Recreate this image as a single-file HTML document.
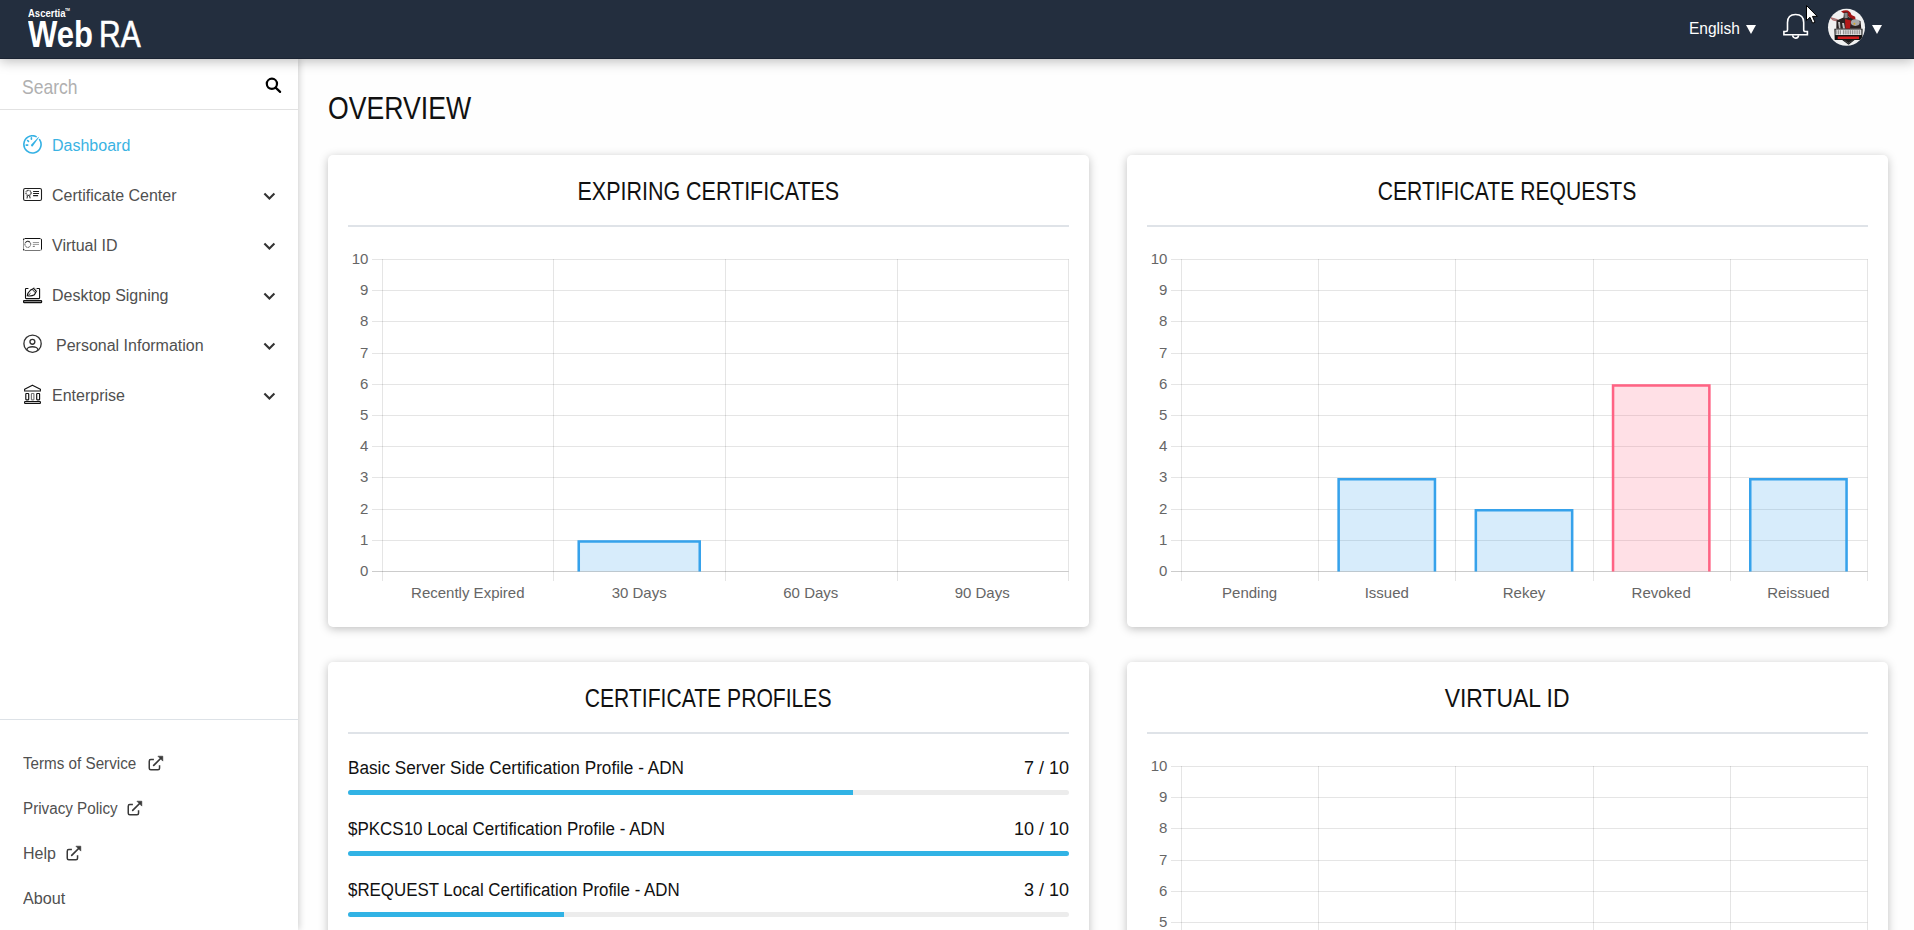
<!DOCTYPE html>
<html><head><meta charset="utf-8"><title>WebRA</title>
<style>
*{box-sizing:border-box;margin:0;padding:0}
html,body{width:1914px;height:930px;overflow:hidden;background:#fefefe;font-family:"Liberation Sans", sans-serif}
#header{position:absolute;left:0;top:0;width:1914px;height:59px;background:#232e3e;box-shadow:0 2px 12px rgba(0,0,0,.28);z-index:5}
#header .hline{position:absolute;left:0;top:58px;width:100%;height:1px;background:#1a2332}
.logo-a{position:absolute;left:27.9px;top:7.6px;color:#fff;font-weight:bold;font-size:11.3px;line-height:1;transform:scaleX(.84);transform-origin:0 0;white-space:nowrap}
.logo-tm{position:absolute;left:65.4px;top:8.2px;color:#fff;font-weight:bold;font-size:4px;line-height:1;white-space:nowrap;transform:scaleX(.85);transform-origin:0 0}
.logo-w{position:absolute;left:28px;top:15.6px;color:#fff;font-size:37px;font-weight:bold;line-height:1;white-space:nowrap;transform:scaleX(.84);transform-origin:0 0}
.logo-r{position:absolute;left:98.8px;top:15.6px;color:#fff;font-size:37px;line-height:1;white-space:nowrap;transform:scaleX(.81);transform-origin:0 0;-webkit-text-stroke:.6px #fff}
.lang{position:absolute;left:1689.3px;top:17.75px;color:#fff;font-size:16.5px;line-height:20px;transform:scaleX(.94);transform-origin:0 50%}
.tri{position:absolute;width:0;height:0;border-left:5px solid transparent;border-right:5px solid transparent;border-top:9px solid #fff}
#sidebar{position:absolute;left:0;top:58px;width:298px;height:872px;background:#fff;box-shadow:1px 0 7px rgba(0,0,0,.2);z-index:3}
.search{position:absolute;left:22px;top:17px;font-size:21px;color:#b0b0b0;transform:scaleX(.835);transform-origin:0 50%}
.sline{position:absolute;left:0;top:51px;width:298px;height:1px;background:#e2e2e2}
.nav{position:absolute;left:0;width:298px;height:50px;color:#505050;font-size:16px}
.nic{position:absolute;line-height:0}
.nav .lbl{position:absolute;top:16px;line-height:20px;white-space:nowrap}
.nav.active{color:#3ab3e3}
.chev{position:absolute;left:263px;top:22px}
.fline{position:absolute;left:0;top:661px;width:298px;height:1px;background:#dde2e7}
.flink{position:absolute;left:23px;height:24px;font-size:16px;line-height:24px;color:#505050;white-space:nowrap}
.flink .ft{display:inline-block;transform-origin:0 50%}
.ext{position:absolute}
h1{position:absolute;left:328px;top:91.3px;font-size:31px;font-weight:normal;color:#111;line-height:36px}
.card{position:absolute;width:761px;background:#fff;border-radius:5px;box-shadow:0 2px 10px rgba(0,0,0,.25)}
.card h2 span{display:inline-block;transform-origin:50% 50%}
.card h2{position:absolute;left:0;top:21px;width:100%;text-align:center;font-size:25px;font-weight:normal;color:#111;line-height:30px}
.card .sep{position:absolute;left:20px;top:70px;width:721px;height:2px;background:#dfe3e8}
.chart{position:absolute;left:0;top:0;font-family:"Liberation Sans", sans-serif;font-size:15px;fill:#666}
.prow{position:absolute;left:20px;width:721px;height:40px;font-size:18px;color:#111}
.pname{position:absolute;left:0;top:0;line-height:24px;white-space:nowrap;transform-origin:0 50%}
.pval{position:absolute;right:0;top:0;line-height:24px}
.ptrack{position:absolute;left:0;top:34px;width:721px;height:5px;border-radius:3px;background:#ececec;overflow:hidden}
.pfill{height:5px;background:#31b3e5}
</style></head><body>
<div id="header"><div class="hline"></div>
<div class="logo-a">Ascertia</div><div class="logo-tm">TM</div>
<div class="logo-w">Web</div><div class="logo-r">RA</div>
<div class="lang">English</div>
<div class="tri" style="left:1746px;top:25px"></div>
<svg style="position:absolute;left:1783px;top:13px" width="26" height="27" viewBox="0 0 26 27"><g fill="none" stroke="#fff" stroke-width="1.6"><path d="M4.5 17 V9.5 Q4.5 1.5 12.6 1.5 Q20.7 1.5 20.7 9.5 V17 Q20.7 18.5 22.5 18.5 H24.4 V21.8 H0.9 V18.5 H2.8 Q4.5 18.5 4.5 17 Z"/><path d="M9.7 22.2 A2.9 2.9 0 0 0 15.5 22.2"/></g></svg>
<div style="position:absolute;left:1826px;top:7px;line-height:0"><svg width="42" height="42" viewBox="0 0 42 42"><defs><clipPath id="avc"><circle cx="20.5" cy="20.3" r="18.5"/></clipPath></defs>
<circle cx="20.5" cy="20.3" r="18.5" fill="#f1f1f1"/>
<g clip-path="url(#avc)">
<path d="M15 4.6 Q18.5 2.6 22 3.4 Q25 5 25.6 8 L29.2 9.8 L29.8 15 L26 13 L22 9 Z" fill="#a01414"/>
<path d="M4.8 10.6 L11.5 12.6 L12 14.2 L6.5 13 Z" fill="#9a9a9a" stroke="#b02020" stroke-width=".5"/>
<path d="M10.5 13.5 L17.5 10.5 L18 5.5 L21.8 5.2 L22.5 10 L27 12 L34.5 14 L35.3 21.8 L10.3 21.8 Z" fill="#2a2222"/>
<path d="M18.2 6 L21.5 5.8 L21.7 11 L18.6 11.2 Z" fill="#8a8a8a"/>
<path d="M12 15 L13 21.5 L14.5 21.5 L14 15 Z M16 16 L17 21.5 L19 21.5 L18 16 Z" fill="#bdbdbd"/>
<path d="M19 12 L25 13.5 L24 21.8 L19.5 21.8 Z" fill="#b51818"/>
<ellipse cx="29.3" cy="15.6" rx="4.4" ry="3.3" fill="#a8a8a8"/>
<circle cx="28.4" cy="16.8" r="1" fill="#d9a520"/>
<path d="M8.4 21.7 H36.6 L36.3 33 H8.7 Z" fill="#141414"/>
<path d="M9.6 22.6 H35.4 V28 H9.6 Z" fill="#e8e8e8"/>
<path d="M10.8 23.2 V27.4 M12.6 23.2 V27.4 M14.4 23.2 V27.4 M17.4 23.2 V27.4 M19.2 23.2 V27.4 M21 23.2 V27.4 M22.8 23.2 V27.4 M24.6 23.2 V27.4 M26.4 23.2 V27.4 M28.2 23.2 V27.4 M30 23.2 V27.4 M31.8 23.2 V27.4 M33.6 23.2 V27.4" stroke="#3a3a3a" stroke-width=".55"/>
<path d="M11.7 29.4 H33 V32.1 H11.7 Z" fill="#d51f1f"/>
<path d="M15.5 32.5 H29.2 L22.6 37.8 Z" fill="#1a1a1a"/>
<path d="M18.5 33.5 L22.6 36.2 L26.5 33.5" stroke="#777" stroke-width=".5" fill="none"/>
</g></svg></div>
<div class="tri" style="left:1872px;top:25px"></div>
<svg width="14" height="22" viewBox="0 0 14 22" style="position:absolute;left:1806px;top:5px"><path d="M0.5 0.5 L0.5 15.5 L4 12.3 L6.6 18.2 L9 17.2 L6.5 11.4 L11.3 11.4 Z" fill="#fff" stroke="#000" stroke-width="1"/></svg>
</div>
<div id="sidebar">
<div class="search">Search</div>
<svg style="position:absolute;left:265px;top:19px" width="18" height="18" viewBox="0 0 18 18"><g fill="none" stroke="#000" stroke-width="2.2"><circle cx="6.9" cy="6.8" r="5.1"/><path d="M10.6 10.6 L15.1 14.9" stroke-linecap="round"/></g></svg>
<div class="sline"></div>
<div class="nav active" style="top:62px"><span class="lbl" style="left:52px">Dashboard</span></div><div class="nic" style="left:22px;top:77px"><svg width="21" height="21" viewBox="0 0 21 21"><g fill="none" stroke="#35b1e4" stroke-width="1.6" stroke-linecap="round"><path d="M17.6 4.6 A8.6 8.6 0 1 1 14.1 1.6"/><path d="M9.4 2.7 V4.2"/><path d="M5.6 5.5 L6.5 6.4"/><path d="M4.2 10.1 H5.7"/></g><path d="M8.85 10.0 L16.45 1.95 L16.95 2.45 L10.55 11.4 Q9.6 12 8.85 10.0 Z" fill="#35b1e4"/></svg></div><div class="nav" style="top:112px"><span class="lbl" style="left:52px">Certificate Center</span><svg class="chev" width="13" height="9" viewBox="0 0 13 9"><path d="M1.4 1.6 L6.4 6.6 L11.4 1.6" fill="none" stroke="#333" stroke-width="2.1"/></svg></div><div class="nic" style="left:22px;top:129px"><svg width="21" height="15" viewBox="0 0 21 15"><g fill="none" stroke="#1e1e1e" stroke-width="1.1"><rect x="1.6" y="1.5" width="17.9" height="12" rx="1.6"/><circle cx="6.5" cy="5.9" r="2.55" stroke-width="1.3" stroke-dasharray="1.1 .55" stroke="#3a3a3a"/><path d="M5.6 8.3 L5.0 11.5 M7.4 8.3 L8.2 11.3" stroke-width="1.2" stroke="#444"/><path d="M11.1 4.4 H17 M11.1 6.5 H17 M11.1 8.6 H16.1" stroke-width="1.05"/></g></svg></div><div class="nav" style="top:162px"><span class="lbl" style="left:52px">Virtual ID</span><svg class="chev" width="13" height="9" viewBox="0 0 13 9"><path d="M1.4 1.6 L6.4 6.6 L11.4 1.6" fill="none" stroke="#333" stroke-width="2.1"/></svg></div><div class="nic" style="left:22px;top:179px"><svg width="21" height="15" viewBox="0 0 21 15"><g fill="none" stroke-width="1"><path d="M2.6 1.5 H18.5 M19.5 2.5 V12.5" stroke="#111"/><path d="M2.6 13.5 H18.5" stroke="#777"/><path d="M1.5 2.5 V12.5" stroke="#999"/><circle cx="1.7" cy="2.3" r=".75" fill="#111" stroke="none"/><circle cx="1.7" cy="12.7" r=".75" fill="#111" stroke="none"/><circle cx="19.3" cy="2.3" r=".6" fill="#111" stroke="none"/><circle cx="19.3" cy="12.7" r=".6" fill="#555" stroke="none"/><ellipse cx="5.8" cy="7.3" rx="2.9" ry="3.1" stroke="#444" stroke-dasharray="1.2 .5"/><path d="M3.3 5.4 Q5 3.6 8 4.9" stroke="#333"/><path d="M10.8 5.5 H17 M10.8 7.4 H17" stroke="#999"/><path d="M10.8 9.4 H12.8" stroke="#777" stroke-width="1.1"/></g></svg></div><div class="nav" style="top:212px"><span class="lbl" style="left:52px">Desktop Signing</span><svg class="chev" width="13" height="9" viewBox="0 0 13 9"><path d="M1.4 1.6 L6.4 6.6 L11.4 1.6" fill="none" stroke="#333" stroke-width="2.1"/></svg></div><div class="nic" style="left:22px;top:228px"><svg width="21" height="18" viewBox="0 0 21 18"><g fill="none" stroke="#111" stroke-width="1.1"><path d="M6.4 2.5 H4.1 Q3.5 2.5 3.5 3.1 V12 Q3.5 12.6 4.1 12.6 H17 Q17.6 12.6 17.6 12 V3.1 Q17.6 2.5 17 2.5 H14.6"/><rect x="1.6" y="14.5" width="18" height="2.1" rx=".6" fill="#888" stroke-width="1.2"/><path d="M5.2 9.8 Q5.6 6.6 8.3 4.3 L11.7 2.4 L14.3 5.3 L12.4 8.8 Q9.6 10.6 5.2 9.8 Z"/><path d="M8.5 7.3 L6.2 9.4 M10.4 3.6 L13.4 6.8" stroke-width=".9"/><path d="M11.9 1.4 L15.3 4.8" stroke="#777" stroke-width=".9" stroke-dasharray="1 .6"/></g></svg></div><div class="nav" style="top:262px"><span class="lbl" style="left:56px">Personal Information</span><svg class="chev" width="13" height="9" viewBox="0 0 13 9"><path d="M1.4 1.6 L6.4 6.6 L11.4 1.6" fill="none" stroke="#333" stroke-width="2.1"/></svg></div><div class="nic" style="left:22px;top:275px"><svg width="21" height="21" viewBox="0 0 21 21"><defs><clipPath id="pc"><circle cx="10.55" cy="10.7" r="8.6"/></clipPath></defs><g fill="none" stroke="#333" stroke-width="1.35"><circle cx="10.55" cy="10.7" r="8.65"/><circle cx="10.4" cy="8.8" r="2.45"/><ellipse cx="10.4" cy="16.7" rx="5.5" ry="3" clip-path="url(#pc)"/></g></svg></div><div class="nav" style="top:312px"><span class="lbl" style="left:52px">Enterprise</span><svg class="chev" width="13" height="9" viewBox="0 0 13 9"><path d="M1.4 1.6 L6.4 6.6 L11.4 1.6" fill="none" stroke="#333" stroke-width="2.1"/></svg></div><div class="nic" style="left:22px;top:325px"><svg width="21" height="21" viewBox="0 0 21 21"><g fill="none" stroke="#111" stroke-width="1.15"><path d="M2.6 6.2 L10.4 2.2 L18.4 6.2 V8 H2.6 Z" stroke-linejoin="round"/><path d="M2.6 8.2 H18.4" stroke="#888" stroke-width="1.3"/><rect x="3.8" y="10.5" width="2.9" height="6.3" rx=".5"/><rect x="9.4" y="10.5" width="2.5" height="6.3" rx=".5" stroke="#777"/><rect x="14.7" y="10.5" width="2.9" height="6.3" rx=".5"/><rect x="2.6" y="18.5" width="15.8" height="1.9" rx=".5"/></g></svg></div>
<div class="fline"></div>
<div class="flink" style="top:694px"><span class="ft" style="transform:scaleX(0.95)">Terms of Service</span></div><div class="flink" style="top:739px"><span class="ft" style="transform:scaleX(0.95)">Privacy Policy</span></div><div class="flink" style="top:784px"><span class="ft" style="transform:scaleX(1.0)">Help</span></div><div class="flink" style="top:829px"><span class="ft" style="transform:scaleX(1.01)">About</span></div><svg class="ext" style="left:147.5px;top:697px" width="16" height="16" viewBox="0 0 16 16"><g fill="none" stroke="#393939" stroke-width="1.5"><path d="M5.9 4.6 H2.8 Q1.25 4.6 1.25 6.2 V13.3 Q1.25 14.85 2.8 14.85 H10 Q11.55 14.85 11.55 13.3 V10.2"/><path d="M5.7 10.4 L12.6 3.5" stroke-width="1.7" stroke-linecap="round"/></g><path d="M9.9 1.2 H14.8 V6.1 Z" fill="#393939" stroke="#393939" stroke-width=".6" stroke-linejoin="round"/></svg><svg class="ext" style="left:127px;top:742px" width="16" height="16" viewBox="0 0 16 16"><g fill="none" stroke="#393939" stroke-width="1.5"><path d="M5.9 4.6 H2.8 Q1.25 4.6 1.25 6.2 V13.3 Q1.25 14.85 2.8 14.85 H10 Q11.55 14.85 11.55 13.3 V10.2"/><path d="M5.7 10.4 L12.6 3.5" stroke-width="1.7" stroke-linecap="round"/></g><path d="M9.9 1.2 H14.8 V6.1 Z" fill="#393939" stroke="#393939" stroke-width=".6" stroke-linejoin="round"/></svg><svg class="ext" style="left:66px;top:787px" width="16" height="16" viewBox="0 0 16 16"><g fill="none" stroke="#393939" stroke-width="1.5"><path d="M5.9 4.6 H2.8 Q1.25 4.6 1.25 6.2 V13.3 Q1.25 14.85 2.8 14.85 H10 Q11.55 14.85 11.55 13.3 V10.2"/><path d="M5.7 10.4 L12.6 3.5" stroke-width="1.7" stroke-linecap="round"/></g><path d="M9.9 1.2 H14.8 V6.1 Z" fill="#393939" stroke="#393939" stroke-width=".6" stroke-linejoin="round"/></svg>
</div>
<h1><span style="display:inline-block;transform:scaleX(.859);transform-origin:0 50%">OVERVIEW</span></h1>
<div class="card" style="left:328px;top:155px;height:472px"><h2><span style="transform:scaleX(.859)">EXPIRING CERTIFICATES</span></h2><div class="sep"></div><svg class="chart" width="761" height="472" viewBox="0 0 761 472">
<line x1="44" y1="104.5" x2="740.5" y2="104.5" stroke="rgba(0,0,0,0.1)" stroke-width="1"/>
<line x1="44" y1="135.5" x2="740.5" y2="135.5" stroke="rgba(0,0,0,0.1)" stroke-width="1"/>
<line x1="44" y1="166.5" x2="740.5" y2="166.5" stroke="rgba(0,0,0,0.1)" stroke-width="1"/>
<line x1="44" y1="198.5" x2="740.5" y2="198.5" stroke="rgba(0,0,0,0.1)" stroke-width="1"/>
<line x1="44" y1="229.5" x2="740.5" y2="229.5" stroke="rgba(0,0,0,0.1)" stroke-width="1"/>
<line x1="44" y1="260.5" x2="740.5" y2="260.5" stroke="rgba(0,0,0,0.1)" stroke-width="1"/>
<line x1="44" y1="291.5" x2="740.5" y2="291.5" stroke="rgba(0,0,0,0.1)" stroke-width="1"/>
<line x1="44" y1="322.5" x2="740.5" y2="322.5" stroke="rgba(0,0,0,0.1)" stroke-width="1"/>
<line x1="44" y1="354.5" x2="740.5" y2="354.5" stroke="rgba(0,0,0,0.1)" stroke-width="1"/>
<line x1="44" y1="385.5" x2="740.5" y2="385.5" stroke="rgba(0,0,0,0.1)" stroke-width="1"/>
<line x1="44" y1="416.5" x2="740.5" y2="416.5" stroke="rgba(0,0,0,0.2)" stroke-width="1"/>
<line x1="54.5" y1="104" x2="54.5" y2="426" stroke="rgba(0,0,0,0.1)" stroke-width="1"/>
<line x1="225.5" y1="104" x2="225.5" y2="426" stroke="rgba(0,0,0,0.1)" stroke-width="1"/>
<line x1="397.5" y1="104" x2="397.5" y2="426" stroke="rgba(0,0,0,0.1)" stroke-width="1"/>
<line x1="569.5" y1="104" x2="569.5" y2="426" stroke="rgba(0,0,0,0.1)" stroke-width="1"/>
<line x1="740.5" y1="104" x2="740.5" y2="426" stroke="rgba(0,0,0,0.1)" stroke-width="1"/>
<text x="40.4" y="108.9" text-anchor="end">10</text>
<text x="40.4" y="139.9" text-anchor="end">9</text>
<text x="40.4" y="170.9" text-anchor="end">8</text>
<text x="40.4" y="202.9" text-anchor="end">7</text>
<text x="40.4" y="233.9" text-anchor="end">6</text>
<text x="40.4" y="264.9" text-anchor="end">5</text>
<text x="40.4" y="295.9" text-anchor="end">4</text>
<text x="40.4" y="326.9" text-anchor="end">3</text>
<text x="40.4" y="358.9" text-anchor="end">2</text>
<text x="40.4" y="389.9" text-anchor="end">1</text>
<text x="40.4" y="420.9" text-anchor="end">0</text>
<text x="139.8" y="443" text-anchor="middle">Recently Expired</text>
<text x="311.2" y="443" text-anchor="middle">30 Days</text>
<text x="482.8" y="443" text-anchor="middle">60 Days</text>
<text x="654.2" y="443" text-anchor="middle">90 Days</text>
<rect x="249.51" y="385.30" width="123.48" height="31.20" fill="rgba(54,162,235,0.2)"/>
<path d="M250.76 416.50 V386.55 H371.74 V416.50" fill="none" stroke="rgb(54,162,235)" stroke-width="2.5"/>
</svg></div>
<div class="card" style="left:1127px;top:155px;height:472px"><h2><span style="transform:scaleX(.845)">CERTIFICATE REQUESTS</span></h2><div class="sep"></div><svg class="chart" width="761" height="472" viewBox="0 0 761 472">
<line x1="44" y1="104.5" x2="740.5" y2="104.5" stroke="rgba(0,0,0,0.1)" stroke-width="1"/>
<line x1="44" y1="135.5" x2="740.5" y2="135.5" stroke="rgba(0,0,0,0.1)" stroke-width="1"/>
<line x1="44" y1="166.5" x2="740.5" y2="166.5" stroke="rgba(0,0,0,0.1)" stroke-width="1"/>
<line x1="44" y1="198.5" x2="740.5" y2="198.5" stroke="rgba(0,0,0,0.1)" stroke-width="1"/>
<line x1="44" y1="229.5" x2="740.5" y2="229.5" stroke="rgba(0,0,0,0.1)" stroke-width="1"/>
<line x1="44" y1="260.5" x2="740.5" y2="260.5" stroke="rgba(0,0,0,0.1)" stroke-width="1"/>
<line x1="44" y1="291.5" x2="740.5" y2="291.5" stroke="rgba(0,0,0,0.1)" stroke-width="1"/>
<line x1="44" y1="322.5" x2="740.5" y2="322.5" stroke="rgba(0,0,0,0.1)" stroke-width="1"/>
<line x1="44" y1="354.5" x2="740.5" y2="354.5" stroke="rgba(0,0,0,0.1)" stroke-width="1"/>
<line x1="44" y1="385.5" x2="740.5" y2="385.5" stroke="rgba(0,0,0,0.1)" stroke-width="1"/>
<line x1="44" y1="416.5" x2="740.5" y2="416.5" stroke="rgba(0,0,0,0.2)" stroke-width="1"/>
<line x1="54.5" y1="104" x2="54.5" y2="426" stroke="rgba(0,0,0,0.1)" stroke-width="1"/>
<line x1="191.5" y1="104" x2="191.5" y2="426" stroke="rgba(0,0,0,0.1)" stroke-width="1"/>
<line x1="328.5" y1="104" x2="328.5" y2="426" stroke="rgba(0,0,0,0.1)" stroke-width="1"/>
<line x1="466.5" y1="104" x2="466.5" y2="426" stroke="rgba(0,0,0,0.1)" stroke-width="1"/>
<line x1="603.5" y1="104" x2="603.5" y2="426" stroke="rgba(0,0,0,0.1)" stroke-width="1"/>
<line x1="740.5" y1="104" x2="740.5" y2="426" stroke="rgba(0,0,0,0.1)" stroke-width="1"/>
<text x="40.4" y="108.9" text-anchor="end">10</text>
<text x="40.4" y="139.9" text-anchor="end">9</text>
<text x="40.4" y="170.9" text-anchor="end">8</text>
<text x="40.4" y="202.9" text-anchor="end">7</text>
<text x="40.4" y="233.9" text-anchor="end">6</text>
<text x="40.4" y="264.9" text-anchor="end">5</text>
<text x="40.4" y="295.9" text-anchor="end">4</text>
<text x="40.4" y="326.9" text-anchor="end">3</text>
<text x="40.4" y="358.9" text-anchor="end">2</text>
<text x="40.4" y="389.9" text-anchor="end">1</text>
<text x="40.4" y="420.9" text-anchor="end">0</text>
<text x="122.6" y="443" text-anchor="middle">Pending</text>
<text x="259.8" y="443" text-anchor="middle">Issued</text>
<text x="397.0" y="443" text-anchor="middle">Rekey</text>
<text x="534.2" y="443" text-anchor="middle">Revoked</text>
<text x="671.4" y="443" text-anchor="middle">Reissued</text>
<rect x="210.41" y="322.90" width="98.78" height="93.60" fill="rgba(54,162,235,0.2)"/>
<path d="M211.66 416.50 V324.15 H307.94 V416.50" fill="none" stroke="rgb(54,162,235)" stroke-width="2.5"/>
<rect x="347.61" y="354.10" width="98.78" height="62.40" fill="rgba(54,162,235,0.2)"/>
<path d="M348.86 416.50 V355.35 H445.14 V416.50" fill="none" stroke="rgb(54,162,235)" stroke-width="2.5"/>
<rect x="484.81" y="229.30" width="98.78" height="187.20" fill="rgba(255,99,132,0.2)"/>
<path d="M486.06 416.50 V230.55 H582.34 V416.50" fill="none" stroke="rgb(255,99,132)" stroke-width="2.5"/>
<rect x="622.01" y="322.90" width="98.78" height="93.60" fill="rgba(54,162,235,0.2)"/>
<path d="M623.26 416.50 V324.15 H719.54 V416.50" fill="none" stroke="rgb(54,162,235)" stroke-width="2.5"/>
</svg></div>
<div class="card" style="left:328px;top:662px;height:400px"><h2><span style="transform:scaleX(.845)">CERTIFICATE PROFILES</span></h2><div class="sep"></div><div class="prow" style="top:94px"><span class="pname" style="transform:scaleX(0.954)">Basic Server Side Certification Profile - ADN</span><span class="pval">7 / 10</span><div class="ptrack"><div class="pfill" style="width:70%"></div></div></div><div class="prow" style="top:155px"><span class="pname" style="transform:scaleX(0.943)">$PKCS10 Local Certification Profile - ADN</span><span class="pval">10 / 10</span><div class="ptrack"><div class="pfill" style="width:100%"></div></div></div><div class="prow" style="top:216px"><span class="pname" style="transform:scaleX(0.9375)">$REQUEST Local Certification Profile - ADN</span><span class="pval">3 / 10</span><div class="ptrack"><div class="pfill" style="width:30%"></div></div></div></div>
<div class="card" style="left:1127px;top:662px;height:472px"><h2><span style="transform:scaleX(.917)">VIRTUAL ID</span></h2><div class="sep"></div><svg class="chart" width="761" height="472" viewBox="0 0 761 472">
<line x1="44" y1="104.5" x2="740.5" y2="104.5" stroke="rgba(0,0,0,0.1)" stroke-width="1"/>
<line x1="44" y1="135.5" x2="740.5" y2="135.5" stroke="rgba(0,0,0,0.1)" stroke-width="1"/>
<line x1="44" y1="166.5" x2="740.5" y2="166.5" stroke="rgba(0,0,0,0.1)" stroke-width="1"/>
<line x1="44" y1="198.5" x2="740.5" y2="198.5" stroke="rgba(0,0,0,0.1)" stroke-width="1"/>
<line x1="44" y1="229.5" x2="740.5" y2="229.5" stroke="rgba(0,0,0,0.1)" stroke-width="1"/>
<line x1="44" y1="260.5" x2="740.5" y2="260.5" stroke="rgba(0,0,0,0.1)" stroke-width="1"/>
<line x1="44" y1="291.5" x2="740.5" y2="291.5" stroke="rgba(0,0,0,0.1)" stroke-width="1"/>
<line x1="44" y1="322.5" x2="740.5" y2="322.5" stroke="rgba(0,0,0,0.1)" stroke-width="1"/>
<line x1="44" y1="354.5" x2="740.5" y2="354.5" stroke="rgba(0,0,0,0.1)" stroke-width="1"/>
<line x1="44" y1="385.5" x2="740.5" y2="385.5" stroke="rgba(0,0,0,0.1)" stroke-width="1"/>
<line x1="44" y1="416.5" x2="740.5" y2="416.5" stroke="rgba(0,0,0,0.2)" stroke-width="1"/>
<line x1="54.5" y1="104" x2="54.5" y2="426" stroke="rgba(0,0,0,0.1)" stroke-width="1"/>
<line x1="191.5" y1="104" x2="191.5" y2="426" stroke="rgba(0,0,0,0.1)" stroke-width="1"/>
<line x1="328.5" y1="104" x2="328.5" y2="426" stroke="rgba(0,0,0,0.1)" stroke-width="1"/>
<line x1="466.5" y1="104" x2="466.5" y2="426" stroke="rgba(0,0,0,0.1)" stroke-width="1"/>
<line x1="603.5" y1="104" x2="603.5" y2="426" stroke="rgba(0,0,0,0.1)" stroke-width="1"/>
<line x1="740.5" y1="104" x2="740.5" y2="426" stroke="rgba(0,0,0,0.1)" stroke-width="1"/>
<text x="40.4" y="108.9" text-anchor="end">10</text>
<text x="40.4" y="139.9" text-anchor="end">9</text>
<text x="40.4" y="170.9" text-anchor="end">8</text>
<text x="40.4" y="202.9" text-anchor="end">7</text>
<text x="40.4" y="233.9" text-anchor="end">6</text>
<text x="40.4" y="264.9" text-anchor="end">5</text>
<text x="40.4" y="295.9" text-anchor="end">4</text>
<text x="40.4" y="326.9" text-anchor="end">3</text>
<text x="40.4" y="358.9" text-anchor="end">2</text>
<text x="40.4" y="389.9" text-anchor="end">1</text>
<text x="40.4" y="420.9" text-anchor="end">0</text>
<text x="122.6" y="443" text-anchor="middle"></text>
<text x="259.8" y="443" text-anchor="middle"></text>
<text x="397.0" y="443" text-anchor="middle"></text>
<text x="534.2" y="443" text-anchor="middle"></text>
<text x="671.4" y="443" text-anchor="middle"></text>
</svg></div>
</body></html>
